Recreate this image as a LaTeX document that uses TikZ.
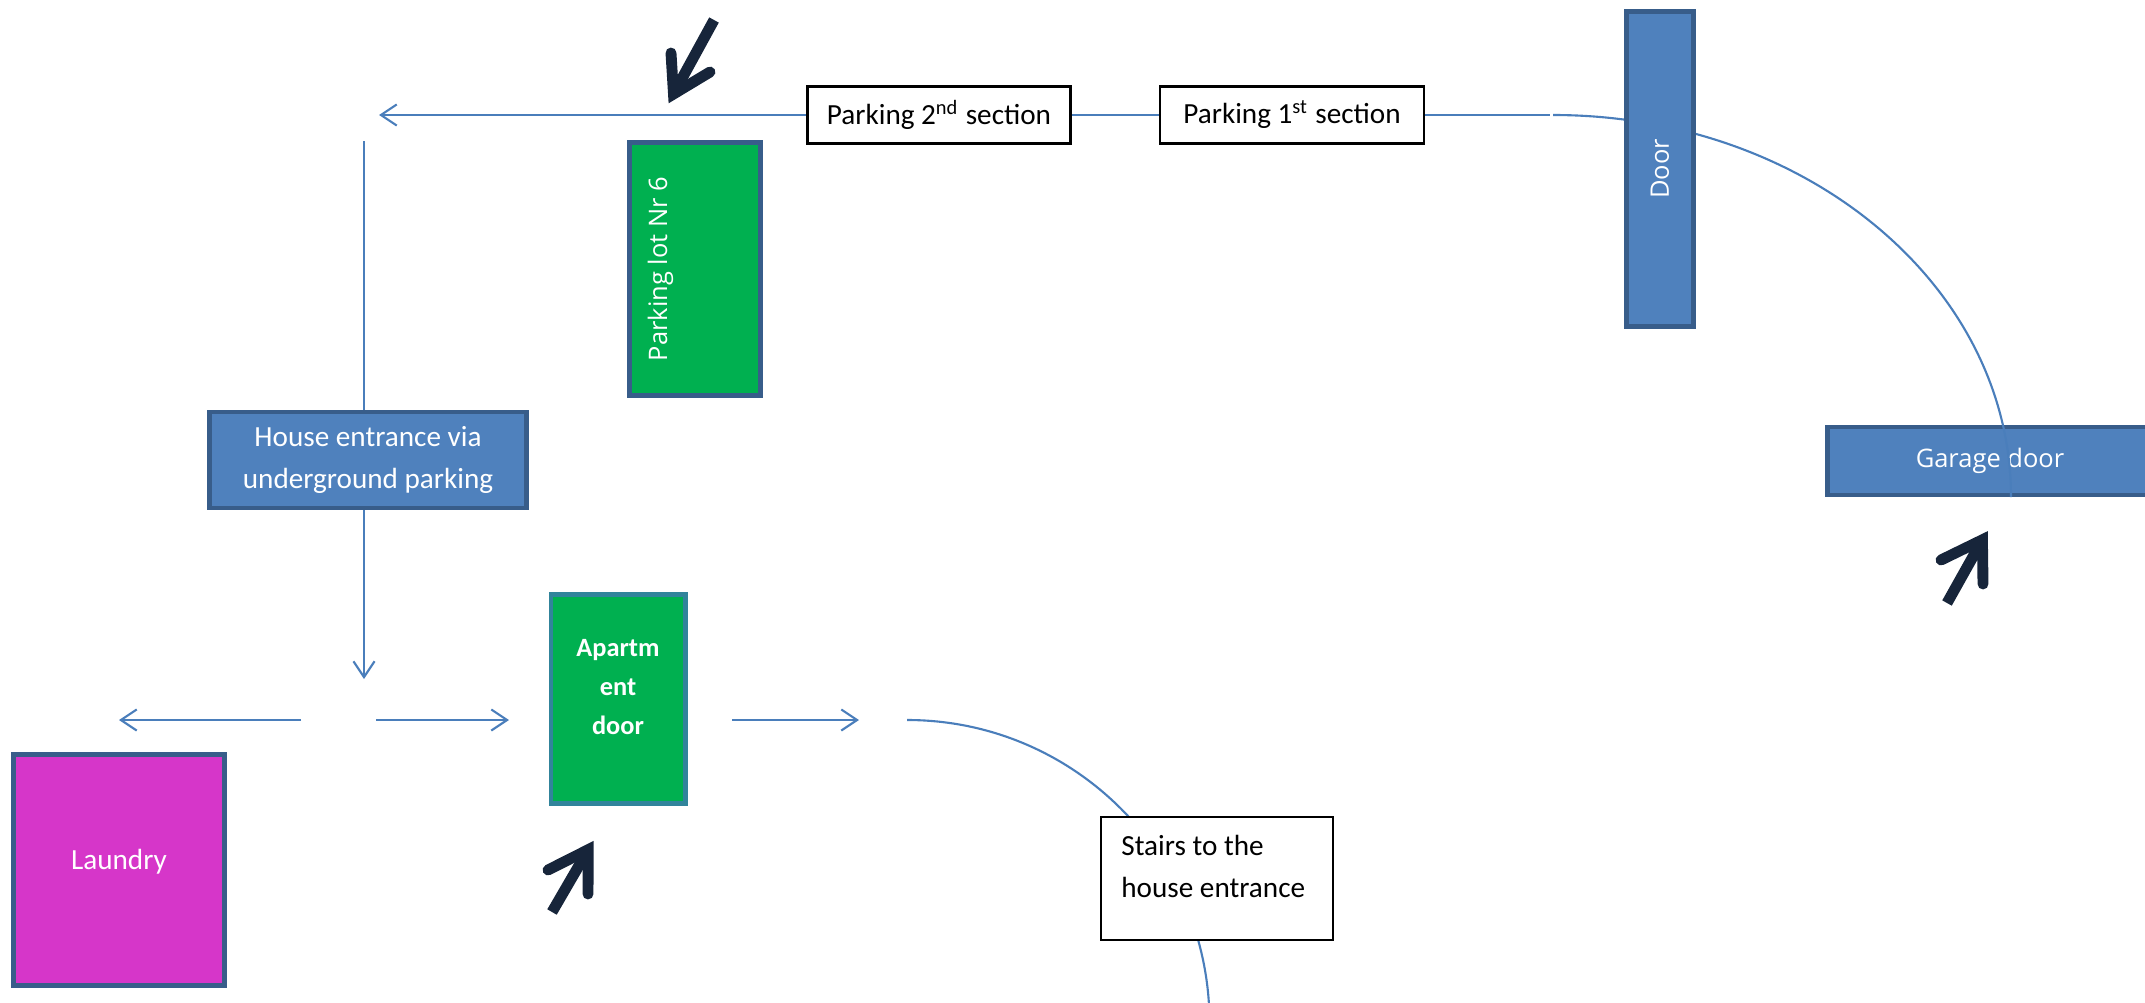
\documentclass[tikz,border=0pt]{standalone}
\usepackage{fontspec}
\setmainfont{Carlito}
\newfontfamily\signfont{Open Sans}
\usetikzlibrary{arrows.meta}
\definecolor{officeblue}{HTML}{4F81BD}
\definecolor{blueedge}{HTML}{385D8A}
\definecolor{lotgreen}{HTML}{00B050}
\definecolor{tealedge}{HTML}{31849B}
\definecolor{laundrypink}{HTML}{D636C9}
\definecolor{pathblue}{HTML}{4A7EBB}
\definecolor{hintink}{HTML}{17253A}
\begin{document}
\begin{tikzpicture}[x=0.01cm,y=-0.01cm,
    room/.style={draw=blueedge,line width=1.4pt,fill=officeblue,text=white,inner sep=0pt,font=\fontsize{8.3}{12}\selectfont},
    lot/.style={room,fill=lotgreen},
    plain/.style={draw=black,line width=0.7pt,fill=white,inner sep=0pt,font=\fontsize{8.3}{12}\selectfont},
    signtext/.style={text=white,inner sep=0pt,font=\signfont\fontsize{7.25}{9}\selectfont},
    way/.style={draw=pathblue,line width=0.6pt},
    wayarrow/.style={way,-{Straight Barb[length=4.5pt,width=6pt]}},
    hint/.style={draw=hintink,line width=3.1pt}]
    \clip (0,0) rectangle (2145,1003);

    \node[plain,minimum width=2.63cm,minimum height=0.57cm] (sec2) at (939,115) {Parking 2\textsuperscript{nd} section};
    \node[plain,minimum width=2.64cm,minimum height=0.57cm] (sec1) at (1292,115) {Parking 1\textsuperscript{st} section};
    \coordinate (west) at (379,115);
    \coordinate (east) at (1550,115);
    \draw[wayarrow] (sec2) -- (west);
    \draw[way] (sec1) -- (sec2);
    \draw[way] (sec1) -- (east);

    \node[room,minimum width=3.25cm,minimum height=0.68cm] (garage) at (1990,461) {};
    \node[signtext] at (garage) {Garage door};
    \coordinate (rampA) at (1553,115);
    \coordinate (rampB) at (2011,497);
    \draw[way] (rampA) .. controls (1806,115) and (2011,286) .. (rampB);
    \node[room,minimum width=0.67cm,minimum height=3.14cm] (door) at (1660,169) {};
    \node[signtext,rotate=90] at (door) {Door};

    \node[lot,minimum width=1.31cm,minimum height=2.52cm] (lot) at (695,269) {};
    \node[signtext,rotate=90] at ([xshift=-0.345cm]lot.center) {Parking lot Nr 6};

    \node[room,minimum width=3.16cm,minimum height=0.96cm,align=center] (house) at (368,460) {House entrance via\\underground parking};
    \coordinate (vtop) at (364,141);
    \coordinate (junction) at (364,679);
    \draw[way] (vtop) -- (house.north -| vtop);
    \draw[wayarrow] (house.south -| junction) -- (junction);

    \coordinate (leftA) at (301,720);
    \coordinate (leftB) at (119,720);
    \coordinate (rightA) at (376,720);
    \coordinate (rightB) at (509,720);
    \coordinate (onA) at (732,720);
    \coordinate (onB) at (859,720);
    \draw[wayarrow] (leftA) -- (leftB);
    \draw[wayarrow] (rightA) -- (rightB);
    \draw[wayarrow] (onA) -- (onB);

    \node[lot,draw=tealedge,minimum width=1.34cm,minimum height=2.09cm] (apt) at (618,699) {};
    \node[text=white,inner sep=0pt,align=center,font=\bfseries\fontsize{7.5}{11}\selectfont] at ([yshift=0.12cm]apt.center) {Apartm\\ent\\door};

    \node[room,fill=laundrypink,minimum width=2.1cm,minimum height=2.3cm] (laundry) at (119,870) {};
    \node[text=white,inner sep=0pt,font=\fontsize{8.3}{12}\selectfont] at ([yshift=0.08cm]laundry.center) {Laundry};

    \coordinate (stairA) at (907,720);
    \coordinate (stairB) at (1209.5,1022.5);
    \draw[way] (stairA) .. controls (1074,720) and (1209.5,855.5) .. (stairB);
    \node[plain,minimum width=2.32cm,minimum height=1.23cm] (stairs) at (1217,878.5) {};
    \node[anchor=north west,inner sep=0pt,align=left,font=\fontsize{8.3}{12}\selectfont] at ([shift={(21,19)}]stairs.north west) {Stairs to the\\house entrance};

    \draw[hint] (714,20) -- (673.5,94);
    \draw[hint,line cap=round,line join=miter] (671,53) -- (673.5,94) -- (710,72);
    \draw[hint] (1947,603) -- (1982.4,539.8);
    \draw[hint,line cap=round,line join=miter] (1941,560) -- (1982.4,539.8) -- (1983,584);
    \draw[hint] (552,912) -- (588.2,849.7);
    \draw[hint,line cap=round,line join=miter] (548,870) -- (588.2,849.7) -- (588,894);
\end{tikzpicture}
\end{document}
